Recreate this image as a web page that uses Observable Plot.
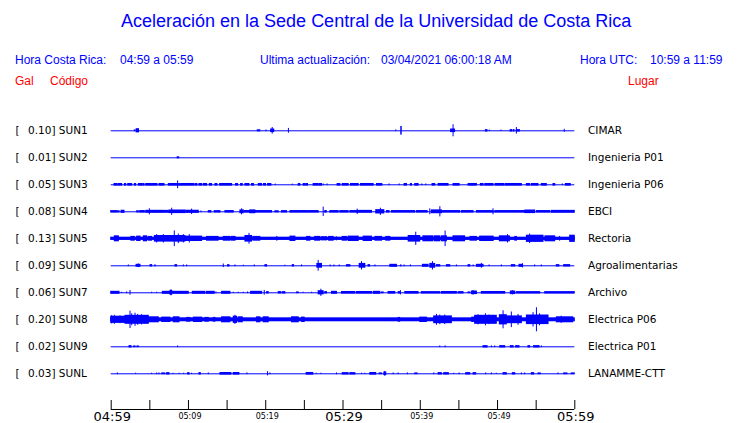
<!DOCTYPE html>
<html>
<head>
<meta charset="utf-8">
<script src="https://cdn.jsdelivr.net/npm/d3@7"></script>
<script src="https://cdn.jsdelivr.net/npm/@observablehq/plot@0.6"></script>
<style>
  html, body { margin: 0; padding: 0; background: #fff; }
  #page { width: 740px; height: 423px; position: relative; overflow: hidden; }
  #hdr { position: relative; width: 740px; height: 100px; font-family: "Liberation Sans", Arial, sans-serif; }
  #hdr div { position: absolute; white-space: pre; }
  .blue { color: #0000ff; }
  .red { color: #ff0000; }
  .h2 { font-size: 12px; line-height: 14px; }
</style>
</head>
<body>
<div id="page">
  <div id="hdr">
    <div class="blue" style="left:121px; top:10px; font-size:18px; line-height:22px;">Aceleración en la Sede Central de la Universidad de Costa Rica</div>
    <div class="blue h2" style="left:15px; top:53px;">Hora Costa Rica:</div>
    <div class="blue h2" style="left:120px; top:53px;">04:59 a 05:59</div>
    <div class="blue h2" style="left:260px; top:53px;">Ultima actualización:</div>
    <div class="blue h2" style="left:381px; top:53px;">03/04/2021 06:00:18 AM</div>
    <div class="blue h2" style="left:580px; top:53px;">Hora UTC:</div>
    <div class="blue h2" style="left:650px; top:53px;">10:59 a 11:59</div>
    <div class="red h2" style="left:15px; top:74px;">Gal</div>
    <div class="red h2" style="left:50px; top:74px;">Código</div>
    <div class="red h2" style="left:628px; top:74px;">Lugar</div>
  </div>
  <div id="chart"></div>
</div>
<script>
// ---------- data (time in minutes after 04:59, amplitude in Gal) ----------
const codes = ["SUN1","SUN2","SUN3","SUN4","SUN5","SUN6","SUN7","SUN8","SUN9","SUNL"];
const places = ["CIMAR","Ingenieria P01","Ingenieria P06","EBCI","Rectoria","Agroalimentarias","Archivo","Electrica P06","Electrica P01","LANAMME-CTT"];
const peakGal = [0.10,0.01,0.05,0.08,0.13,0.09,0.06,0.20,0.02,0.03];
const tickMinutes = [0,5,10,15,20,25,30,35,40,45,50,55,60];
const tickLabels = ["04:59","05:09","05:19","05:29","05:39","05:49","05:59"];
const tickLabelMinutes = [0,10,20,30,40,50,60];
const majorLabel = [true,false,false,true,false,false,true];

// each event: [start minute, end minute, half amplitude in Gal]
const sun1 = [[3.05,3.15,0.015],[3.3,3.6,0.035],[18.97,19.3,0.017],[20.1,20.1,0.015],[20.7,21.1,0.03],[20.9,20.9,0.055],[23.0,23.0,0.04],[36.9,36.9,0.015],[37.54,37.6,0.072],[43.99,44.5,0.03],[44.31,44.31,0.10],[48.5,48.7,0.02],[49.0,49.0,0.012],[50.5,50.5,0.012],[51.7,51.9,0.02],[52.1,52.2,0.02],[52.5,52.9,0.02],[52.5,52.5,0.055],[58.7,58.7,0.025]];
const sun2 = [[8.6,8.8,0.017]];
const sun3 = [[0.43,0.82,0.022],[0.95,1.42,0.022],[1.77,1.94,0.022],[2.2,2.72,0.022],[3.06,3.23,0.022],[3.58,4.0,0.022],[4.14,4.31,0.022],[4.53,5.22,0.022],[5.3,5.99,0.022],[6.25,6.9,0.022],[7.46,8.66,0.022],[8.66,8.66,0.065],[8.79,9.0,0.022],[9.09,10.73,0.022],[10.9,11.16,0.022],[11.42,11.77,0.022],[11.98,12.41,0.022],[12.76,13.06,0.022],[13.49,13.75,0.022],[14.1,15.65,0.022],[16.16,16.42,0.022],[16.81,17.03,0.022],[17.37,17.89,0.022],[18.23,18.49,0.022],[19.1,19.53,0.022],[19.78,20.04,0.022],[20.3,20.73,0.022],[21.3,21.3,0.012],[23.5,23.5,0.012],[24.27,24.48,0.022],[24.91,25.13,0.022],[25.26,25.47,0.022],[26.2,26.85,0.022],[26.98,27.28,0.022],[27.5,27.5,0.015],[28.0,28.0,0.015],[29.3,29.66,0.022],[29.96,30.73,0.022],[31.03,32.03,0.022],[32.33,33.97,0.022],[34.4,35.09,0.022],[36.03,36.03,0.015],[37.33,37.33,0.015],[37.97,38.28,0.022],[38.79,38.92,0.022],[39.35,39.78,0.022],[40.26,40.26,0.015],[40.78,40.78,0.015],[41.59,41.94,0.022],[42.37,43.66,0.022],[44.31,45.09,0.022],[46.25,47.33,0.022],[47.84,48.19,0.022],[48.41,49.48,0.022],[49.74,50.86,0.022],[51.03,53.15,0.022],[53.79,54.22,0.022],[54.44,55.3,0.022],[55.73,56.38,0.022],[57.24,57.46,0.022],[58.45,58.45,0.015],[58.84,59.48,0.022]];
const sun4 = [[0,0.78,0.02],[0.9,1.08,0.018],[1.34,1.72,0.026],[3.36,3.58,0.018],[3.75,4.35,0.021],[4.53,6.6,0.025],[5.0,5.0,0.05],[6.68,7.46,0.024],[7.54,9.6,0.03],[7.89,7.89,0.06],[9.7,11.34,0.026],[10.47,10.47,0.045],[11.68,11.68,0.015],[12.63,12.97,0.02],[13.4,14.14,0.02],[14.78,15.86,0.021],[16.72,17.16,0.032],[16.94,16.94,0.05],[17.28,20.82,0.021],[18.0,18.66,0.032],[21.25,21.68,0.018],[22.1,22.76,0.02],[23.2,25.56,0.021],[25.65,26.85,0.021],[27.5,27.5,0.078],[27.7,27.9,0.021],[28.36,29.44,0.021],[29.65,30.73,0.021],[30.95,31.81,0.021],[31.9,31.9,0.045],[31.9,33.75,0.024],[34.3,35.35,0.036],[34.9,34.9,0.06],[35.69,36.03,0.021],[36.33,39.35,0.021],[39.57,40.95,0.021],[41.3,41.3,0.05],[41.5,42.8,0.032],[42.6,42.6,0.085],[42.8,45.17,0.021],[45.39,46.9,0.021],[47.33,49.48,0.021],[49.48,49.48,0.05],[49.7,53.6,0.021],[53.6,54.87,0.03],[55.1,56.8,0.021],[57.0,60,0.024]];
const sun5 = [[0,60,0.027],[0.47,0.99,0.05],[2.6,3.06,0.04],[3.36,3.8,0.045],[4.22,4.66,0.05],[4.87,5.3,0.04],[5.65,9.6,0.055],[5.95,5.95,0.07],[6.81,6.81,0.07],[8.23,8.23,0.13],[8.75,8.75,0.08],[9.4,9.4,0.07],[10.17,10.17,0.07],[9.6,11.77,0.045],[12.4,13.9,0.04],[14.57,15.43,0.04],[15.6,16.1,0.04],[17.37,18.23,0.055],[17.9,17.9,0.09],[18.4,19.3,0.04],[21.5,21.5,0.04],[23.2,23.84,0.045],[25.35,25.78,0.04],[26.4,27.07,0.04],[27.3,27.93,0.035],[28.2,28.8,0.04],[29.2,29.2,0.035],[29.96,30.52,0.04],[30.73,32.03,0.045],[32.67,33.75,0.045],[34.2,35.05,0.04],[35.6,36.12,0.04],[38.5,40.0,0.055],[39.48,39.48,0.11],[40.4,41.72,0.05],[41.9,42.6,0.05],[42.8,43.45,0.05],[43.28,43.28,0.13],[44.3,45.8,0.05],[46.5,47.33,0.04],[47.75,49.5,0.045],[50.3,51.6,0.05],[51.35,51.35,0.07],[52.3,52.5,0.04],[53.8,55.95,0.06],[54.22,54.22,0.08],[56.2,57.46,0.05],[58.1,58.1,0.04],[59.4,60,0.06]];
const sun6 = [[2.28,2.28,0.015],[3.28,3.79,0.025],[3.58,3.58,0.03],[5.09,5.3,0.02],[5.73,5.73,0.02],[8.32,8.53,0.02],[9.4,9.4,0.015],[9.83,9.83,0.015],[14.57,14.57,0.03],[15.13,15.3,0.02],[16.08,16.08,0.015],[17.16,17.16,0.01],[18.58,18.58,0.015],[19.96,20.17,0.02],[22.54,22.54,0.01],[23.5,23.66,0.02],[24.7,24.7,0.015],[26.68,27.28,0.04],[26.85,26.85,0.09],[28.4,28.4,0.015],[28.9,28.9,0.015],[29.57,29.57,0.015],[30.52,30.95,0.02],[32.16,32.89,0.04],[32.46,32.46,0.07],[33.3,33.5,0.02],[34.2,34.2,0.015],[36.12,36.98,0.025],[37.55,37.55,0.02],[37.97,37.97,0.015],[38.79,38.79,0.015],[40.34,41.08,0.025],[41.3,41.94,0.04],[41.64,41.64,0.07],[42.16,42.59,0.02],[43.45,43.88,0.02],[44.74,44.74,0.015],[46.25,46.47,0.02],[46.9,46.9,0.015],[47.33,48.19,0.025],[47.97,47.97,0.04],[48.97,48.97,0.015],[50.56,50.56,0.015],[51.85,52.29,0.02],[52.84,53.3,0.025],[53.3,53.3,0.035],[54.87,54.87,0.015],[55.73,55.73,0.015],[57.67,58.0,0.02],[58.62,59.4,0.02]];
const sun7 = [[0,1.08,0.025],[1.42,1.42,0.01],[2.07,2.07,0.015],[2.5,2.5,0.04],[5.3,5.3,0.01],[5.95,5.95,0.01],[6.68,7.67,0.025],[7.67,7.9,0.04],[7.8,7.8,0.05],[7.9,10.04,0.025],[10.56,12.2,0.025],[12.4,13.4,0.025],[13.62,13.62,0.015],[14.35,15.43,0.025],[15.86,15.86,0.01],[16.5,16.5,0.01],[17.16,17.16,0.01],[17.72,17.72,0.015],[18.1,19.53,0.025],[19.87,19.87,0.04],[20.17,20.39,0.02],[21.68,22.03,0.02],[22.24,22.54,0.02],[24.05,24.27,0.015],[24.9,24.9,0.01],[26.0,26.0,0.01],[26.85,27.5,0.035],[27.2,27.2,0.06],[27.7,27.93,0.02],[28.58,29.22,0.025],[29.87,31.6,0.022],[31.81,33.75,0.022],[33.97,34.83,0.025],[35.05,35.26,0.015],[35.9,36.77,0.022],[37.2,37.4,0.02],[37.5,37.5,0.035],[38.06,39.78,0.022],[40.2,42.59,0.02],[42.8,44.74,0.022],[44.96,45.6,0.02],[46.25,46.47,0.015],[46.68,47.33,0.03],[46.9,46.9,0.04],[47.97,50.99,0.022],[51.72,52.29,0.03],[51.98,51.98,0.035],[52.5,55.52,0.02],[56.17,60,0.02]];
const sun8 = [[0,60,0.033],[0,1.85,0.06],[0.13,0.13,0.07],[0.47,0.47,0.075],[1.2,1.2,0.065],[1.85,4.87,0.075],[2.5,2.5,0.145],[2.72,2.72,0.1],[3.15,3.15,0.11],[3.49,3.49,0.09],[4.0,4.0,0.085],[4.44,4.44,0.07],[4.87,6.16,0.05],[6.6,7.67,0.045],[8.1,8.84,0.05],[9.83,10.26,0.04],[10.7,11.77,0.045],[12.2,12.63,0.04],[13.28,13.49,0.04],[14.35,15.43,0.05],[15.86,16.3,0.06],[16.08,16.08,0.075],[16.51,17.03,0.05],[18.88,19.31,0.05],[19.74,20.39,0.05],[23.4,24.27,0.05],[24.7,25.04,0.045],[37.2,37.4,0.04],[40.0,40.86,0.045],[41.8,44.09,0.065],[42.16,42.16,0.09],[42.59,42.59,0.08],[43.23,43.23,0.08],[46.72,47.1,0.045],[47.1,49.91,0.075],[47.54,47.54,0.085],[48.5,48.5,0.1],[48.97,48.97,0.08],[49.48,49.48,0.075],[50.3,51.2,0.085],[50.78,50.78,0.15],[51.2,53.15,0.065],[51.85,51.85,0.13],[52.72,52.72,0.09],[53.8,56.6,0.08],[54.66,54.66,0.12],[55.1,55.1,0.2],[55.5,55.5,0.1],[57.67,59.8,0.05],[58.3,58.3,0.06]];
const sun9 = [[2.37,2.63,0.02],[2.97,3.15,0.015],[3.4,3.58,0.015],[8.66,8.66,0.015],[42.59,42.59,0.015],[43.28,43.28,0.015],[48.19,48.71,0.02],[49.27,49.27,0.015],[49.7,49.7,0.015],[50.35,51.0,0.02],[51.72,52.07,0.02],[52.41,52.84,0.02],[54.0,54.22,0.02],[54.74,55.43,0.02],[55.73,55.73,0.015]];
const sunL = [[0.86,0.86,0.015],[3.23,3.23,0.01],[5.3,5.3,0.01],[5.95,5.95,0.015],[6.25,6.25,0.015],[6.6,7.0,0.015],[7.24,7.54,0.02],[8.06,8.06,0.01],[8.84,8.84,0.01],[9.44,9.44,0.01],[9.96,10.13,0.02],[10.47,10.47,0.01],[11.42,11.6,0.02],[12.63,12.63,0.015],[14.14,15.56,0.022],[15.86,16.59,0.022],[17.63,17.63,0.015],[20.3,20.3,0.035],[20.6,20.6,0.015],[25.3,26.16,0.022],[26.6,26.6,0.01],[27.2,27.2,0.01],[29.22,29.22,0.015],[29.96,30.73,0.02],[30.95,31.6,0.02],[32.46,32.46,0.01],[32.9,32.9,0.01],[33.53,34.3,0.022],[34.74,35.05,0.015],[35.35,35.6,0.03],[35.47,35.47,0.04],[36.55,36.55,0.015],[37.2,37.2,0.015],[38.4,38.4,0.015],[39.35,39.65,0.015],[41.81,41.81,0.015],[42.37,42.8,0.02],[43.1,43.7,0.02],[44.4,44.4,0.01],[45.09,45.09,0.015],[45.95,46.47,0.02],[46.9,47.24,0.02],[48.54,48.54,0.015],[49.27,49.27,0.015],[49.9,49.9,0.01],[50.78,51.2,0.02],[51.98,52.29,0.02],[53.15,53.15,0.015],[53.58,53.58,0.015],[54.44,54.74,0.02],[55.3,55.6,0.015],[57.89,57.89,0.015],[58.62,59.05,0.015],[59.6,60,0.015]];
const traces = [sun1, sun2, sun3, sun4, sun5, sun6, sun7, sun8, sun9, sunL];

// ---------- layout constants ----------
const ROW_GAP = 0.45;            // Gal between trace baselines
const Y_TOP = 30.3, PX_PER_GAL = 60;
const AXIS_BASE = -(309 - Y_TOP) / PX_PER_GAL;
const TICK_TOP = -(300 - Y_TOP) / PX_PER_GAL;
const X_LEFT = 110.7, X_RIGHT = 574.3;
const rowY = (k) => -k * ROW_GAP;

const events = traces.flatMap((tr, k) => tr.map(([t0, t1, a]) => ({k, t0, t1, a})));
const rows = codes.map((code, k) => ({k, code, place: places[k], gal: peakGal[k]}));
const labels = tickLabels.map((lab, i) => ({lab, m: tickLabelMinutes[i], major: majorLabel[i]}));

const chart = Plot.plot({
  width: 740,
  height: 323,
  marginLeft: X_LEFT,
  marginRight: 740 - X_RIGHT,
  marginTop: 0,
  marginBottom: 0,
  x: {domain: [0, 60], axis: null},
  y: {domain: [0, rowY(9)], range: [Y_TOP, Y_TOP + 9 * ROW_GAP * PX_PER_GAL], axis: null},
  style: {fontFamily: "'DejaVu Sans', sans-serif", fontSize: "10.5px", color: "black", background: "white", overflow: "visible"},
  marks: [
    Plot.ruleY(rows, {y: d => rowY(d.k), x1: 0, x2: 60, stroke: "#0000ff", strokeWidth: 1}),
    Plot.rect(events, {x1: "t0", x2: "t1", y1: d => rowY(d.k) - d.a, y2: d => rowY(d.k) + d.a, fill: "#0000ff", insetLeft: -0.5, insetRight: -0.5}),
    Plot.text(rows, {x: 0, y: d => rowY(d.k), text: () => "[", dx: 15 - X_LEFT, textAnchor: "start", fill: "black"}),
    Plot.text(rows, {x: 0, y: d => rowY(d.k), text: d => `${d.gal.toFixed(2)}] ${d.code}`, dx: 27.5 - X_LEFT, textAnchor: "start", fill: "black"}),
    Plot.text(rows, {x: 60, y: d => rowY(d.k), text: "place", dx: 587.5 - X_RIGHT, textAnchor: "start", fill: "black"}),
    Plot.ruleY([AXIS_BASE], {x1: 0, x2: 60, stroke: "black", strokeWidth: 1}),
    Plot.ruleX(tickMinutes, {x: d => d, y1: AXIS_BASE, y2: TICK_TOP, stroke: "black", strokeWidth: 1}),
    Plot.text(labels.filter(d => d.major), {x: "m", y: AXIS_BASE, text: "lab", fontSize: 13, dy: 7.5, dx: 1, fill: "black"}),
    Plot.text(labels.filter(d => !d.major), {x: "m", y: AXIS_BASE, text: "lab", fontSize: 8, dy: 7, dx: 1.5, fill: "black"})
  ]
});
document.getElementById("chart").appendChild(chart);
</script>
</body>
</html>
